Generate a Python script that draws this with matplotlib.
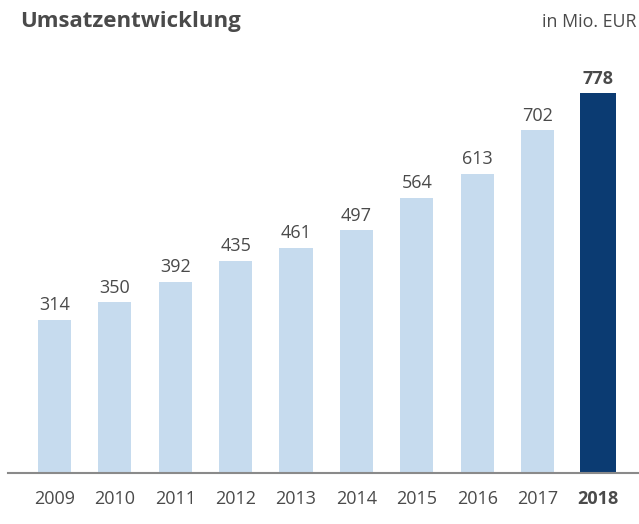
import numpy as np
import matplotlib
matplotlib.use('Agg')
import matplotlib.pyplot as plt

plt.rcParams['font.family'] = ['Open Sans', 'DejaVu Sans']

''' Data '''
years = ['2009', '2010', '2011', '2012', '2013', '2014', '2015', '2016', '2017', '2018']
revenue = [314, 350, 392, 435, 461, 497, 564, 613, 702, 778]

light = '#c6dbee'
dark = '#0b3b72'
textcol = '#4a4a4a'

fig = plt.figure(figsize=(6.39, 5.24), dpi=100)
W, H = 639, 524
base = 473
top = 33.4
ax = fig.add_axes([8 / W, (H - base) / H, 1 - 8 / W, (base - top) / H])

x = np.arange(len(years))
colors = [light] * (len(years) - 1) + [dark]
widths = [0.55] * (len(years) - 1) + [0.6]
ax.bar(x, revenue, width=widths, color=colors, zorder=2)

for i, v in enumerate(revenue):
    last = i == len(revenue) - 1
    ax.text(i, v + 11, str(v), ha='center', va='bottom', fontsize=13,
            color=textcol, fontweight='bold' if last else 'normal')

ax.set_xlim(-0.77, 9.68)
ax.set_ylim(0, 900)
ax.set_xticks(x)
ax.set_xticklabels(years, fontsize=13, color=textcol)
ax.get_xticklabels()[-1].set_fontweight('bold')
ax.tick_params(axis='x', length=0, pad=12)
ax.set_yticks([])
for s in ['top', 'right', 'left']:
    ax.spines[s].set_visible(False)
ax.spines['bottom'].set_color('#8a8a8a')
ax.spines['bottom'].set_linewidth(1.5)
ax.spines['bottom'].set_zorder(3)

fig.text(20 / W, 1 - 22 / H, 'Umsatzentwicklung', fontsize=16, fontweight='bold',
         color=textcol, ha='left', va='center')
fig.text(636 / W, 1 - 22 / H, 'in Mio. EUR', fontsize=12.8,
         color=textcol, ha='right', va='center')

plt.savefig('out.png', dpi=100)
